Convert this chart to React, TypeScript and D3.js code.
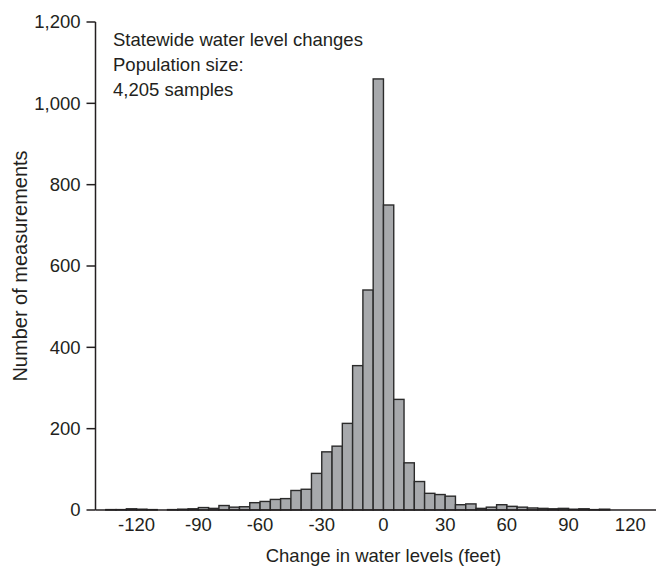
import React from "react";
import * as d3 from "d3";

const binStarts = [-135,-130,-125,-120,-115,-110,-105,-100,-95,-90,-85,-80,-75,-70,-65,-60,-55,-50,-45,-40,-35,-30,-25,-20,-15,-10,-5,0,5,10,15,20,25,30,35,40,45,50,55,60,65,70,75,80,85,90,95,100,105];
const counts = [1,1,3,2,1,0,1,2,3,6,4,11,7,8,18,21,26,28,48,51,90,143,157,213,355,541,1060,750,272,116,70,41,38,34,13,15,4,7,13,9,7,5,4,3,4,2,3,1,2];
const binWidth = 5;
const xTicks = [-120,-90,-60,-30,0,30,60,90,120];
const yTicks = [0,200,400,600,800,1000,1200];
const annotation = ["Statewide water level changes","Population size:","4,205 samples"];
const xTitle = "Change in water levels (feet)";
const yTitle = "Number of measurements";

export default function App() {
  const W = 658, H = 569;
  const x = d3.scaleLinear().domain([-140, 132.5]).range([95.5, 656]);
  const y = d3.scaleLinear().domain([0, 1200]).range([510, 22]);
  const font = "'Liberation Sans', Arial, Helvetica, sans-serif";
  const ink = "#231f20";
  const fmt = d3.format(",");
  const fs = 18.5;
  return (
    <svg width={W} height={H} style={{ position: "absolute", left: 0, top: 0, background: "#fff" }} fontFamily={font}>
      <rect width={W} height={H} fill="#fff" />
      {binStarts.map((s, i) => counts[i] > 0 ? (
        <rect key={s} x={x(s)} y={y(counts[i])} width={x(s + binWidth) - x(s)} height={y(0) - y(counts[i])}
          fill="#a7a9ac" stroke="#2b2b2b" strokeWidth={1.4} />
      ) : null)}
      <line x1={x(-140)} x2={656} y1={y(0)} y2={y(0)} stroke={ink} strokeWidth={1.5} />
      <line x1={x(-140)} x2={x(-140)} y1={y(0)} y2={y(1200)} stroke={ink} strokeWidth={1.5} />
      {yTicks.map(t => (
        <g key={t}>
          <line x1={x(-140) - 9} x2={x(-140)} y1={y(t)} y2={y(t)} stroke={ink} strokeWidth={1.5} />
          <text x={x(-140) - 15} y={y(t)} dy="0.35em" textAnchor="end" fontSize={fs} fill={ink}>{fmt(t)}</text>
        </g>
      ))}
      {xTicks.map(t => (
        <text key={t} x={x(t)} y={531} textAnchor="middle" fontSize={fs} fill={ink}>{String(t)}</text>
      ))}
      <text x={x(0)} y={562} textAnchor="middle" fontSize={fs} fill={ink}>{xTitle}</text>
      <text transform={`translate(27,${(y(0) + y(1200)) / 2}) rotate(-90)`} textAnchor="middle" fontSize={20} fill={ink}>{yTitle}</text>
      {annotation.map((l, i) => (
        <text key={i} x={113} y={46 + i * 25} fontSize={fs} fill={ink}>{l}</text>
      ))}
    </svg>
  );
}
